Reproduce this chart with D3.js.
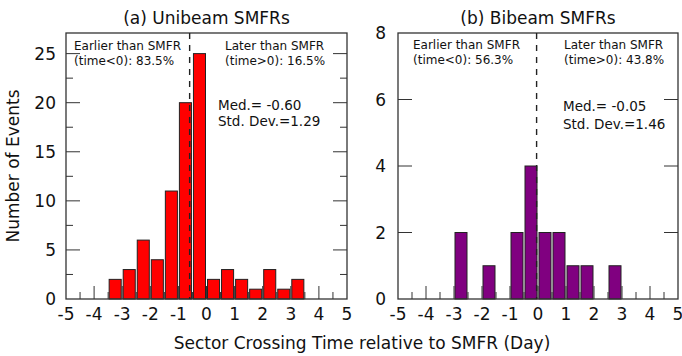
<!DOCTYPE html>
<html>
<head>
<meta charset="utf-8">
<script src="https://cdn.jsdelivr.net/npm/d3@7"></script>
<style>
  html, body { margin: 0; padding: 0; background: #fff; }
  svg text { font-family: "DejaVu Sans", "Open Sans", sans-serif; fill: #111; }
</style>
</head>
<body>
<svg id="chart" width="682" height="356"></svg>
<script>
// Histogram bins: left edge of each 0.5-day bin and the number of events in it
const binWidth = 0.5;
const uniBinStart = [-3.5, -3.0, -2.5, -2.0, -1.5, -1.0, -0.5, 0.0, 0.5, 1.0, 1.5, 2.0, 2.5, 3.0];
const uniCounts   = [2, 3, 6, 4, 11, 20, 25, 2, 3, 2, 1, 3, 1, 2];
const biBinStart  = [-3.0, -2.5, -2.0, -1.5, -1.0, -0.5, 0.0, 0.5, 1.0, 1.5, 2.0, 2.5];
const biCounts    = [2, 0, 1, 0, 2, 4, 2, 2, 1, 1, 0, 1];

// Axis ticks
const xTickLabels = [-5, -4, -3, -2, -1, 0, 1, 2, 3, 4, 5];
const uniYTicks = [0, 5, 10, 15, 20, 25];
const biYTicks  = [0, 2, 4, 6, 8];

// Summary statistics
const uniMedian = -0.60, uniStd = 1.29, uniEarlier = 83.5, uniLater = 16.5;
const biMedian  = -0.05, biStd  = 1.46, biEarlier  = 56.3, biLater  = 43.8;

const svg = d3.select("#chart");

function panel(cfg) {
  const g = svg.append("g");
  const x = d3.scaleLinear().domain([-5, 5]).range([cfg.left, cfg.right]);
  const y = d3.scaleLinear().domain([0, cfg.yMax]).range([cfg.bottom, cfg.top]);

  // bars
  const bins = cfg.starts.map((s, i) => ({ s, n: cfg.counts[i] })).filter(d => d.n > 0);
  g.selectAll("rect.bar").data(bins).join("rect")
    .attr("class", "bar")
    .attr("x", d => x(d.s) + 1)
    .attr("width", d => x(d.s + binWidth) - x(d.s) - 2)
    .attr("y", d => y(d.n))
    .attr("height", d => y(0) - y(d.n))
    .attr("fill", cfg.color)
    .attr("stroke", "#222")
    .attr("stroke-width", 1);

  // x ticks every half day, longer on whole days
  const xMinor = d3.range(-4.5, 5, 0.5);
  g.selectAll("line.xt").data(xMinor).join("line")
    .attr("x1", d => x(d)).attr("x2", d => x(d))
    .attr("y1", cfg.bottom)
    .attr("y2", d => cfg.bottom - (Number.isInteger(d) ? 13 : 7))
    .attr("stroke", "#333").attr("stroke-width", 1);

  // y ticks on both sides
  const yt = cfg.yTicks.filter(v => v > 0 && v < cfg.yMax);
  const ytAll = yt.map(v => ({ v, len: 14 }))
    .concat((cfg.yMinor || []).map(v => ({ v, len: 7 })));
  ["l", "r"].forEach(side => {
    g.selectAll("line.yt" + side).data(ytAll).join("line")
      .attr("x1", side === "l" ? cfg.left : cfg.right)
      .attr("x2", d => side === "l" ? cfg.left + d.len : cfg.right - d.len)
      .attr("y1", d => y(d.v)).attr("y2", d => y(d.v))
      .attr("stroke", "#333").attr("stroke-width", 1);
  });

  // frame
  g.append("rect")
    .attr("x", cfg.left).attr("y", cfg.top)
    .attr("width", cfg.right - cfg.left).attr("height", cfg.bottom - cfg.top)
    .attr("fill", "none").attr("stroke", "#333").attr("stroke-width", 1.3);

  // median line
  g.append("line")
    .attr("x1", x(cfg.median)).attr("x2", x(cfg.median))
    .attr("y1", cfg.top).attr("y2", cfg.bottom)
    .attr("stroke", "#222").attr("stroke-width", 1.4)
    .attr("stroke-dasharray", "6,6");

  // x tick labels
  g.selectAll("text.xl").data(xTickLabels).join("text")
    .attr("x", d => x(d)).attr("y", cfg.bottom + 21)
    .attr("text-anchor", "middle")
    .style("font-size", "17px")
    .text(d => d);

  // y tick labels
  g.selectAll("text.yl").data(cfg.yTicks).join("text")
    .attr("x", cfg.left - cfg.yLabelGap).attr("y", d => y(d) + 6)
    .attr("text-anchor", "end")
    .style("font-size", "17px")
    .text(d => d);

  // title
  g.append("text")
    .attr("x", (cfg.left + cfg.right) / 2).attr("y", 24)
    .attr("text-anchor", "middle")
    .style("font-size", "17px")
    .text(cfg.title);

  // annotations
  const t = cfg.text;
  const note = (tx, ty, s, size) => g.append("text")
    .attr("x", tx).attr("y", ty).style("font-size", size).text(s);
  note(t.ex, t.ey, "Earlier than SMFR", "12px");
  note(t.ex, t.ey + 14.5, `(time<0): ${cfg.earlier.toFixed(1)}%`, "12px");
  note(t.lx, t.ey, "Later than SMFR", "12px");
  note(t.lx, t.ey + 14.5, `(time>0): ${cfg.later.toFixed(1)}%`, "12px");
  note(t.mx, t.my, `Med.= ${cfg.median.toFixed(2)}`, "13.5px");
  note(t.mx, t.my + t.mdy, `Std. Dev.=${cfg.std.toFixed(2)}`, "13.5px");
}

panel({
  left: 66, right: 347, top: 33, bottom: 299, yMax: 27.1,
  starts: uniBinStart, counts: uniCounts, color: "#ff0000",
  yTicks: uniYTicks, yMinor: [2.5, 7.5, 12.5, 17.5, 22.5], yLabelGap: 10,
  median: uniMedian, std: uniStd, earlier: uniEarlier, later: uniLater,
  title: "(a) Unibeam SMFRs",
  text: { ex: 74, ey: 50, lx: 225, mx: 218, my: 110, mdy: 15.5 }
});

panel({
  left: 398, right: 678, top: 33, bottom: 299, yMax: 8,
  starts: biBinStart, counts: biCounts, color: "#800080",
  yTicks: biYTicks, yMinor: [], yLabelGap: 12,
  median: biMedian, std: biStd, earlier: biEarlier, later: biLater,
  title: "(b) Bibeam SMFRs",
  text: { ex: 413, ey: 49, lx: 564, mx: 563, my: 111, mdy: 18 }
});

// shared axis titles
svg.append("text")
  .attr("transform", "translate(19,166) rotate(-90)")
  .attr("text-anchor", "middle")
  .style("font-size", "17px")
  .text("Number of Events");

svg.append("text")
  .attr("x", 362).attr("y", 349)
  .attr("text-anchor", "middle")
  .style("font-size", "17px")
  .text("Sector Crossing Time relative to SMFR (Day)");
</script>
</body>
</html>
